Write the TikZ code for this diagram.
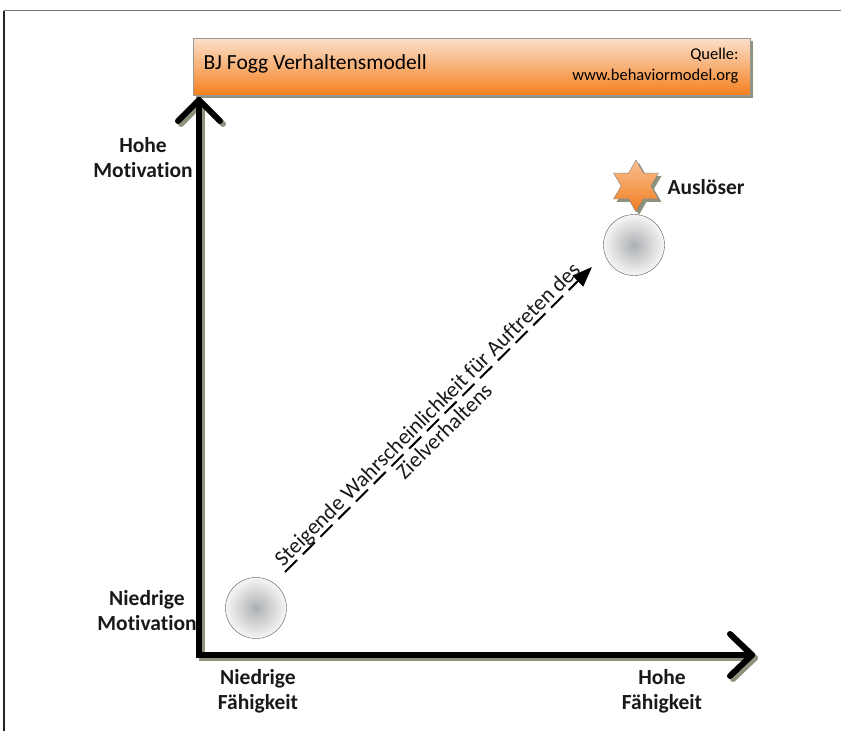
\documentclass[tikz,border=0pt]{standalone}
\usepackage{fontspec}
\setmainfont{Carlito}[Ligatures = NoCommon]
\usetikzlibrary{shapes.geometric, arrows.meta, shadows}

\definecolor{bannerlight}{RGB}{251,224,204}
\definecolor{bannerdark}{RGB}{244,128,30}
\definecolor{starlight}{RGB}{250,190,140}
\definecolor{stardark}{RGB}{240,125,35}
\definecolor{shadowgreen}{RGB}{140,148,128}
\definecolor{balldark}{RGB}{172,175,178}
\definecolor{balllight}{RGB}{246,246,246}

\begin{document}
\begin{tikzpicture}[x = 1pt, y = -1pt,
		axis/.style = {line width = 6pt, line cap = round, line join = miter},
		axislabel/.style = {font = \fontsize{21.5}{25}\selectfont\bfseries, align = center, text = black!90},
		ball/.style = {circle, minimum size = 61pt, draw = black!65, thin, inner color = balldark, outer color = balllight},
		greenshadow/.style = {general shadow = {fill = shadowgreen, shadow xshift = 3pt, shadow yshift = -3pt}}]
	\useasboundingbox (0,0) rectangle (841,731);
	
	% frame
	\draw [black!55, line width = 1.2pt] (4,10.5) -- (841,10.5);
	\draw [black!85, line width = 1.2pt] (4,10.5) -- (4,731);
	
	% banner
	\node (banner) [rectangle, minimum width = 557pt, minimum height = 57pt, draw = black!40, top color = bannerlight, bottom color = bannerdark, greenshadow] at (471.5,66.5) {};
	\node (title) [anchor = west, font = \fontsize{21.5}{24}\selectfont] at (200,64) {BJ Fogg Verhaltensmodell};
	\node (source) [anchor = east, align = right, font = \fontsize{16.5}{21}\selectfont] at (742,66) {Quelle:\\www.behaviormodel.org};
	
	% axes
	\coordinate (origin) at (199,655);
	\coordinate (ytip) at (199,100);
	\coordinate (xtip) at (752,655);
	\foreach \off/\col in {3/shadowgreen, 0/black} {
		\draw [axis, \col, transform canvas = {xshift = \off pt, yshift = -\off pt}] (ytip) -- (origin) -- (xtip);
		\draw [axis, \col, line join = round, transform canvas = {xshift = \off pt, yshift = -\off pt}] (ytip) ++(-21,21) -- (ytip) -- ++(21,21);
		\draw [axis, \col, line join = round, transform canvas = {xshift = \off pt, yshift = -\off pt}] (xtip) ++(-22,-21) -- (xtip) -- ++(-22,21);
	}
	
	\node (highmot) [axislabel] at (143,158) {Hohe\\Motivation};
	\node (lowmot) [axislabel] at (147,611) {Niedrige\\Motivation};
	\node (lowabil) [axislabel] at (258,691) {Niedrige\\Fähigkeit};
	\node (highabil) [axislabel] at (662,691) {Hohe\\Fähigkeit};
	
	% states
	\node (low) [ball] at (256,608) {};
	\node (high) [ball] at (634,245) {};
	
	\node (trigger) [star, star points = 6, star point ratio = 1.75, minimum size = 52pt, inner sep = 0pt, draw = black!50, top color = starlight, bottom color = stardark, greenshadow] at (636,186) {};
	\node (triggerlabel) [axislabel, anchor = west] at (664,187) {Auslöser};
	
	% rising probability
	\coordinate (risestart) at (285,572);
	\coordinate (riseend) at (592,267);
	\draw [line width = 2pt, dash pattern = on 17pt off 8pt, -{Triangle[length = 20pt, width = 15pt]}] (risestart) -- node [pos = 0.49, sloped, align = center, font = \fontsize{22}{24}\selectfont, text = black!90] {Steigende Wahrscheinlichkeit für Auftreten des\\Zielverhaltens} (riseend);
\end{tikzpicture}
\end{document}
